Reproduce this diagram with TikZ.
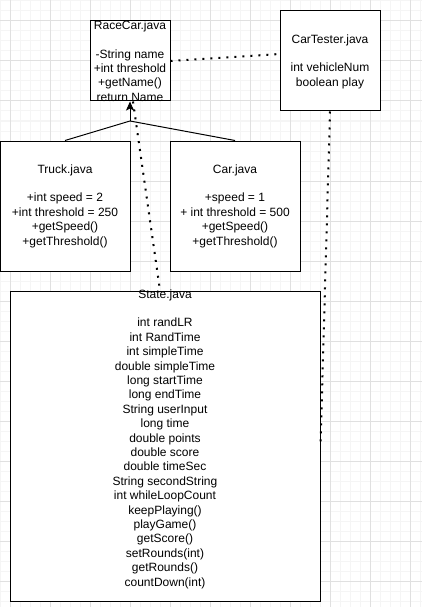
\documentclass[tikz,border=0pt]{standalone}
\usepackage{fontspec}
\setmainfont{Liberation Sans}
\usetikzlibrary{arrows.meta,calc}
\definecolor{gridmajor}{RGB}{224,224,224}
\definecolor{gridminor}{RGB}{245,245,245}
\begin{document}
\begin{tikzpicture}[x=1pt,y=-1pt,
  classbox/.style={draw=black,line width=1pt,fill=white,inner sep=0pt},
  lbl/.style={align=center,inner sep=0pt,text=black,font=\fontsize{12pt}{14.4pt}\selectfont},
  inherit/.style={draw=black,line width=1pt},
  dotline/.style={draw=black,line width=2pt,dash pattern=on 2pt off 6pt},
  minorline/.style={draw=gridminor,line width=1pt},
  majorline/.style={draw=gridmajor,line width=1pt}]
\fill[white] (0,0) rectangle (422,607);
\useasboundingbox (0,0) rectangle (422,607);
% grid
\foreach \x in {0,10,...,420} \draw[minorline] (\x,0) -- (\x,607);
\foreach \y in {1,11,...,601} \draw[minorline] (0,\y) -- (422,\y);
\foreach \x in {10,50,...,410} \draw[majorline] (\x,0) -- (\x,607);
\foreach \y in {21,61,...,581} \draw[majorline] (0,\y) -- (422,\y);
% boxes
\node[classbox,minimum width=80pt,minimum height=80pt] (racecar) at (130,61) {};
\node[classbox,minimum width=100pt,minimum height=100pt] (cartester) at (330,61) {};
\node[classbox,minimum width=130pt,minimum height=130pt] (truck) at (65,206) {};
\node[classbox,minimum width=130pt,minimum height=130pt] (car) at (235,206) {};
\node[classbox,minimum width=310pt,minimum height=310pt] (state) at (165,446) {};
% texts
\node[lbl] (racecartxt) at (130,61) {RaceCar.java\\[14.4pt]-String name\\+int threshold\\+getName()\\return Name};
\node[lbl] (cartestertxt) at (330,61.5) {CarTester.java\\[14.4pt]int vehicleNum\\boolean play};
\node[lbl] (trucktxt) at (65,206) {Truck.java\\[14.4pt]+int speed = 2\\+int threshold = 250\\+getSpeed()\\+getThreshold()};
\node[lbl] (cartxt) at (235,206) {Car.java\\[14.4pt]+speed = 1\\+ int threshold = 500\\+getSpeed()\\+getThreshold()};
\node[lbl] (statetxt) at (165,439) {State.java\\[14.4pt]int randLR\\int RandTime\\int simpleTime\\double simpleTime\\long startTime\\long endTime\\String userInput\\long time\\double points\\double score\\double timeSec\\String secondString\\int whileLoopCount\\keepPlaying()\\playGame()\\getScore()\\setRounds(int)\\getRounds()\\countDown(int)};
% inheritance
\coordinate (junction) at (130,121);
\draw[inherit] (truck.north) -- (junction);
\draw[inherit] (car.north) -- (junction);
\draw[inherit,-{Stealth[length=9pt,width=8pt,inset=2pt]}] (junction) -- (racecar.south);
% dotted associations
\draw[dotline] (racecar.east) -- ($(cartester.west)+(0,-7)$);
\draw[dotline] ([xshift=3pt]racecar.south) -- ([xshift=-5pt]state.north);
\draw[dotline] (cartester.south) -- (state.east);
\end{tikzpicture}
\end{document}
